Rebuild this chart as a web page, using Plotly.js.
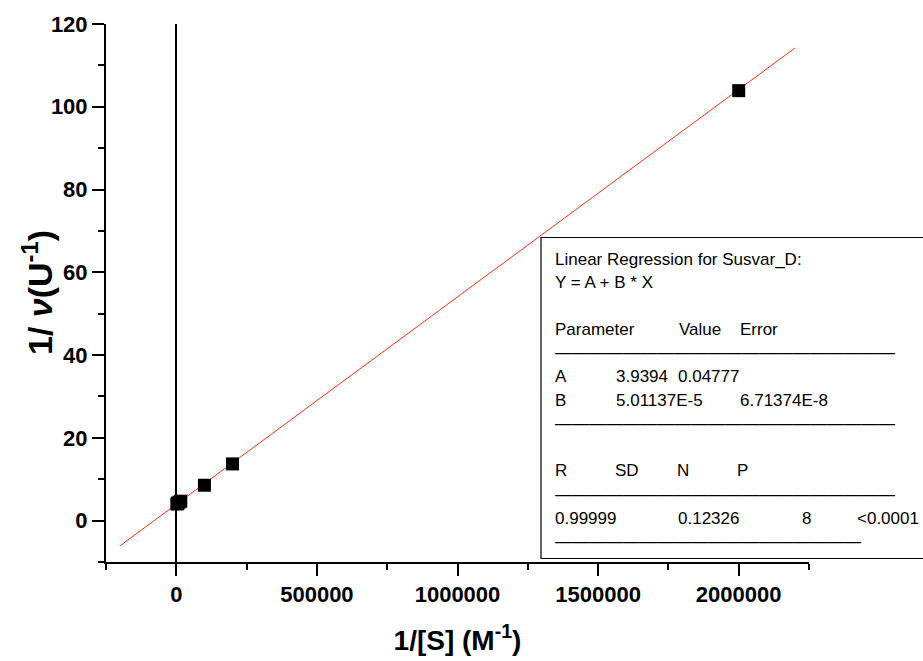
<!DOCTYPE html>
<html>
<head>
<meta charset="utf-8">
<script src="https://cdn.plot.ly/plotly-3.0.1.min.js"></script>
<style>html,body{margin:0;padding:0;background:#fff;}#chart{width:923px;height:661px;}</style>
</head>
<body>
<div id="chart"></div>
<script>
// ---- data ----
const xData = [2000, 4000, 6000, 10000, 16000, 100000, 200000, 2000000];
const yData = [4.00, 4.15, 4.25, 4.45, 4.70, 8.55, 13.7, 103.9];
const fitX = [-200000, 2200000];
const fitY = [-6.08, 114.19];

const xTitle = "1/[S] (M<sup>-1</sup>)";
const yTitle = "1/ <i>\u03bd</i>(U<sup>-1</sup>)";
const boxTitle = "Linear Regression for Susvar_D:";
const boxEquation = "Y = A + B * X";
const paramHeader = ["Parameter", "Value", "Error"];
const paramA = ["A", "3.9394", "0.04777"];
const paramB = ["B", "5.01137E-5", "6.71374E-8"];
const statHeader = ["R", "SD", "N", "P"];
const statValues = ["0.99999", "0.12326", "8", "<0.0001"];

// ---- layout helpers (pixel -> paper) ----
const L = 106, R = 809, T = 24, B = 562;
const px = X => (X - L) / (R - L);
const py = Y => (B - Y) / (B - T);

const FONT = "Liberation Sans, Arial, sans-serif";
const boxFont = {family: FONT, size: 17, color: "#000"};
const annotations = [];
function txt(x, y, s, extra) {
  annotations.push(Object.assign({
    xref: "paper", yref: "paper", x: px(x), y: py(y), text: s,
    showarrow: false, xanchor: "left", yanchor: "middle", font: boxFont
  }, extra || {}));
}
const dash = n => "\u2014".repeat(n);

txt(553, 259, boxTitle);
txt(553, 282, boxEquation);
txt(553, 329, paramHeader[0]); txt(677, 329, paramHeader[1]); txt(738, 329, paramHeader[2]);
txt(553, 352, dash(20));
txt(553, 376, paramA[0]); txt(614, 376, paramA[1]); txt(676, 376, paramA[2]);
txt(553, 400, paramB[0]); txt(614, 400, paramB[1]); txt(738, 400, paramB[2]);
txt(553, 423, dash(20));
txt(553, 470, statHeader[0]); txt(613, 470, statHeader[1]); txt(675, 470, statHeader[2]); txt(735, 470, statHeader[3]);
txt(553, 494, dash(20));
txt(553, 518, statValues[0]); txt(676, 518, statValues[1]); txt(800, 518, statValues[2]);
txt(921, 518, statValues[3], {xanchor: "right"});
txt(553, 541, dash(18));

// y axis title as annotation for exact placement
annotations.push({
  xref: "paper", yref: "paper", x: px(37), y: 0.5, text: yTitle, textangle: -90,
  showarrow: false, xanchor: "center", yanchor: "middle",
  font: {family: FONT, size: 34, color: "#000", weight: "bold"}
});

const traces = [
  {
    x: fitX, y: fitY, type: "scatter", mode: "lines",
    line: {color: "rgb(255,45,20)", width: 1}, hoverinfo: "skip"
  },
  {
    x: xData, y: yData, type: "scatter", mode: "markers",
    marker: {symbol: "square", size: 13, color: "#000"}
  }
];

const axisCommon = {
  showgrid: false, showline: true, linecolor: "#000", linewidth: 2,
  ticks: "outside", ticklen: 12, tickwidth: 2, tickcolor: "#000",
  tickfont: {family: FONT, size: 22, color: "#000", weight: "bold"},
  minor: {ticks: "outside", ticklen: 6, tickwidth: 2, tickcolor: "#000", showgrid: false}
};

const layout = {
  width: 923, height: 661,
  margin: {l: L, r: 923 - R, t: T, b: 661 - B},
  paper_bgcolor: "#fff", plot_bgcolor: "#fff",
  showlegend: false,
  xaxis: Object.assign({}, axisCommon, {
    range: [-250000, 2250000], tick0: 0, dtick: 500000, tickformat: "d",
    minor: Object.assign({}, axisCommon.minor, {dtick: 250000, tick0: 0}),
    zeroline: true, zerolinecolor: "#000", zerolinewidth: 2,
    title: {text: xTitle, font: {family: FONT, size: 28, color: "#000", weight: "bold"}, standoff: 24}
  }),
  yaxis: Object.assign({}, axisCommon, {
    range: [-10, 120], tick0: 0, dtick: 20,
    minor: Object.assign({}, axisCommon.minor, {dtick: 10, tick0: 0}),
    zeroline: false
  }),
  shapes: [{
    type: "rect", xref: "paper", yref: "paper",
    x0: px(541), x1: px(935), y0: py(558.5), y1: py(237.5),
    line: {color: "#000", width: 1.2}, fillcolor: "rgba(255,255,255,0)", layer: "above"
  }],
  annotations: annotations
};

Plotly.newPlot("chart", traces, layout, {displayModeBar: false, staticPlot: true});
</script>
</body>
</html>
